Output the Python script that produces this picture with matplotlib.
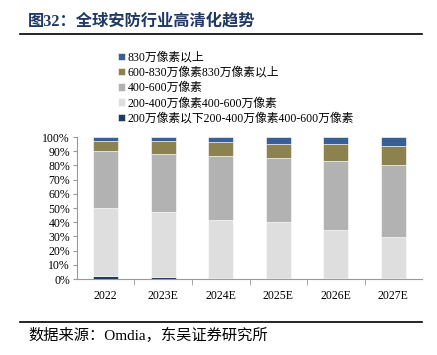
import matplotlib
matplotlib.use("Agg")
import matplotlib.pyplot as plt
import numpy as np
from matplotlib.lines import Line2D

plt.rcParams['font.family'] = ['Liberation Serif', 'Noto Sans CJK SC', 'DejaVu Sans']

years = ["2022", "2023E", "2024E", "2025E", "2026E", "2027E"]
# 各段占比(%)，自下而上
below_200 = [2.0, 1.2, 1.0, 0.5, 0.5, 0.5]
s200_400 = [48.0, 45.8, 40.5, 39.5, 34.0, 28.8]
s400_600 = [39.9, 41.3, 45.4, 45.2, 48.4, 51.2]
s600_830 = [7.1, 8.7, 9.3, 9.8, 12.4, 12.9]
above_830 = [3.0, 3.0, 3.8, 5.0, 4.7, 6.6]

labels = ["200万像素以下200-400万像素400-600万像素",
          "200-400万像素400-600万像素",
          "400-600万像素",
          "600-830万像素830万像素以上",
          "830万像素以上"]
colors = ["#1F3864", "#DEDEDE", "#B2B2B2", "#8C8250", "#3A5F96"]

fig = plt.figure(figsize=(4.37, 3.55), dpi=100)
ax = fig.add_axes([0.176, 0.214, 0.79, 0.40])

x = np.arange(len(years))
bottom = np.zeros(len(years))
handles = []
for vals, lab, c in zip([below_200, s200_400, s400_600, s600_830, above_830], labels, colors):
    b = ax.bar(x, vals, width=0.43, bottom=bottom, color=c, edgecolor="white", linewidth=0.4, label=lab)
    bottom += np.array(vals)
    handles.append(b)

ax.set_xlim(-0.5, len(years) - 0.5)
ax.set_ylim(0, 100)
ax.set_yticks(np.arange(0, 101, 10))
ax.set_yticklabels([f"{v}%" for v in range(0, 101, 10)], fontsize=8.5)
ax.set_xticks(x)
ax.set_xticklabels(years, fontsize=8.5)
ax.tick_params(axis="x", length=0, pad=8)
ax.set_xticks(np.arange(0.5, len(years) - 0.5, 1), minor=True)
ax.tick_params(axis="x", which="minor", length=4, color="#999999", direction="out")
ax.tick_params(axis="y", length=3, color="#999999", direction="out", pad=2)
for s in ["top", "right"]:
    ax.spines[s].set_visible(False)
for s in ["left", "bottom"]:
    ax.spines[s].set_color("#999999")
    ax.spines[s].set_linewidth(0.8)

fig.legend(handles[::-1], labels[::-1], loc="upper left", bbox_to_anchor=(0.27, 0.855),
           frameon=False, fontsize=8.5, handlelength=0.6, handleheight=0.6,
           handletextpad=0.2, labelspacing=0.28, borderaxespad=0, borderpad=0)

fig.text(0.064, 0.939, "图32：全球安防行业高清化趋势", fontsize=11.7, fontweight="bold",
         color="#1F3864", va="center")
fig.add_artist(Line2D([0.045, 0.965], [0.904, 0.904], color="black", lw=1.2))
fig.add_artist(Line2D([0.045, 0.965], [0.092, 0.092], color="black", lw=1.2))
fig.text(0.066, 0.056, "数据来源：Omdia，东吴证券研究所", fontsize=11, va="center")

fig.savefig("out.png", dpi=100)
